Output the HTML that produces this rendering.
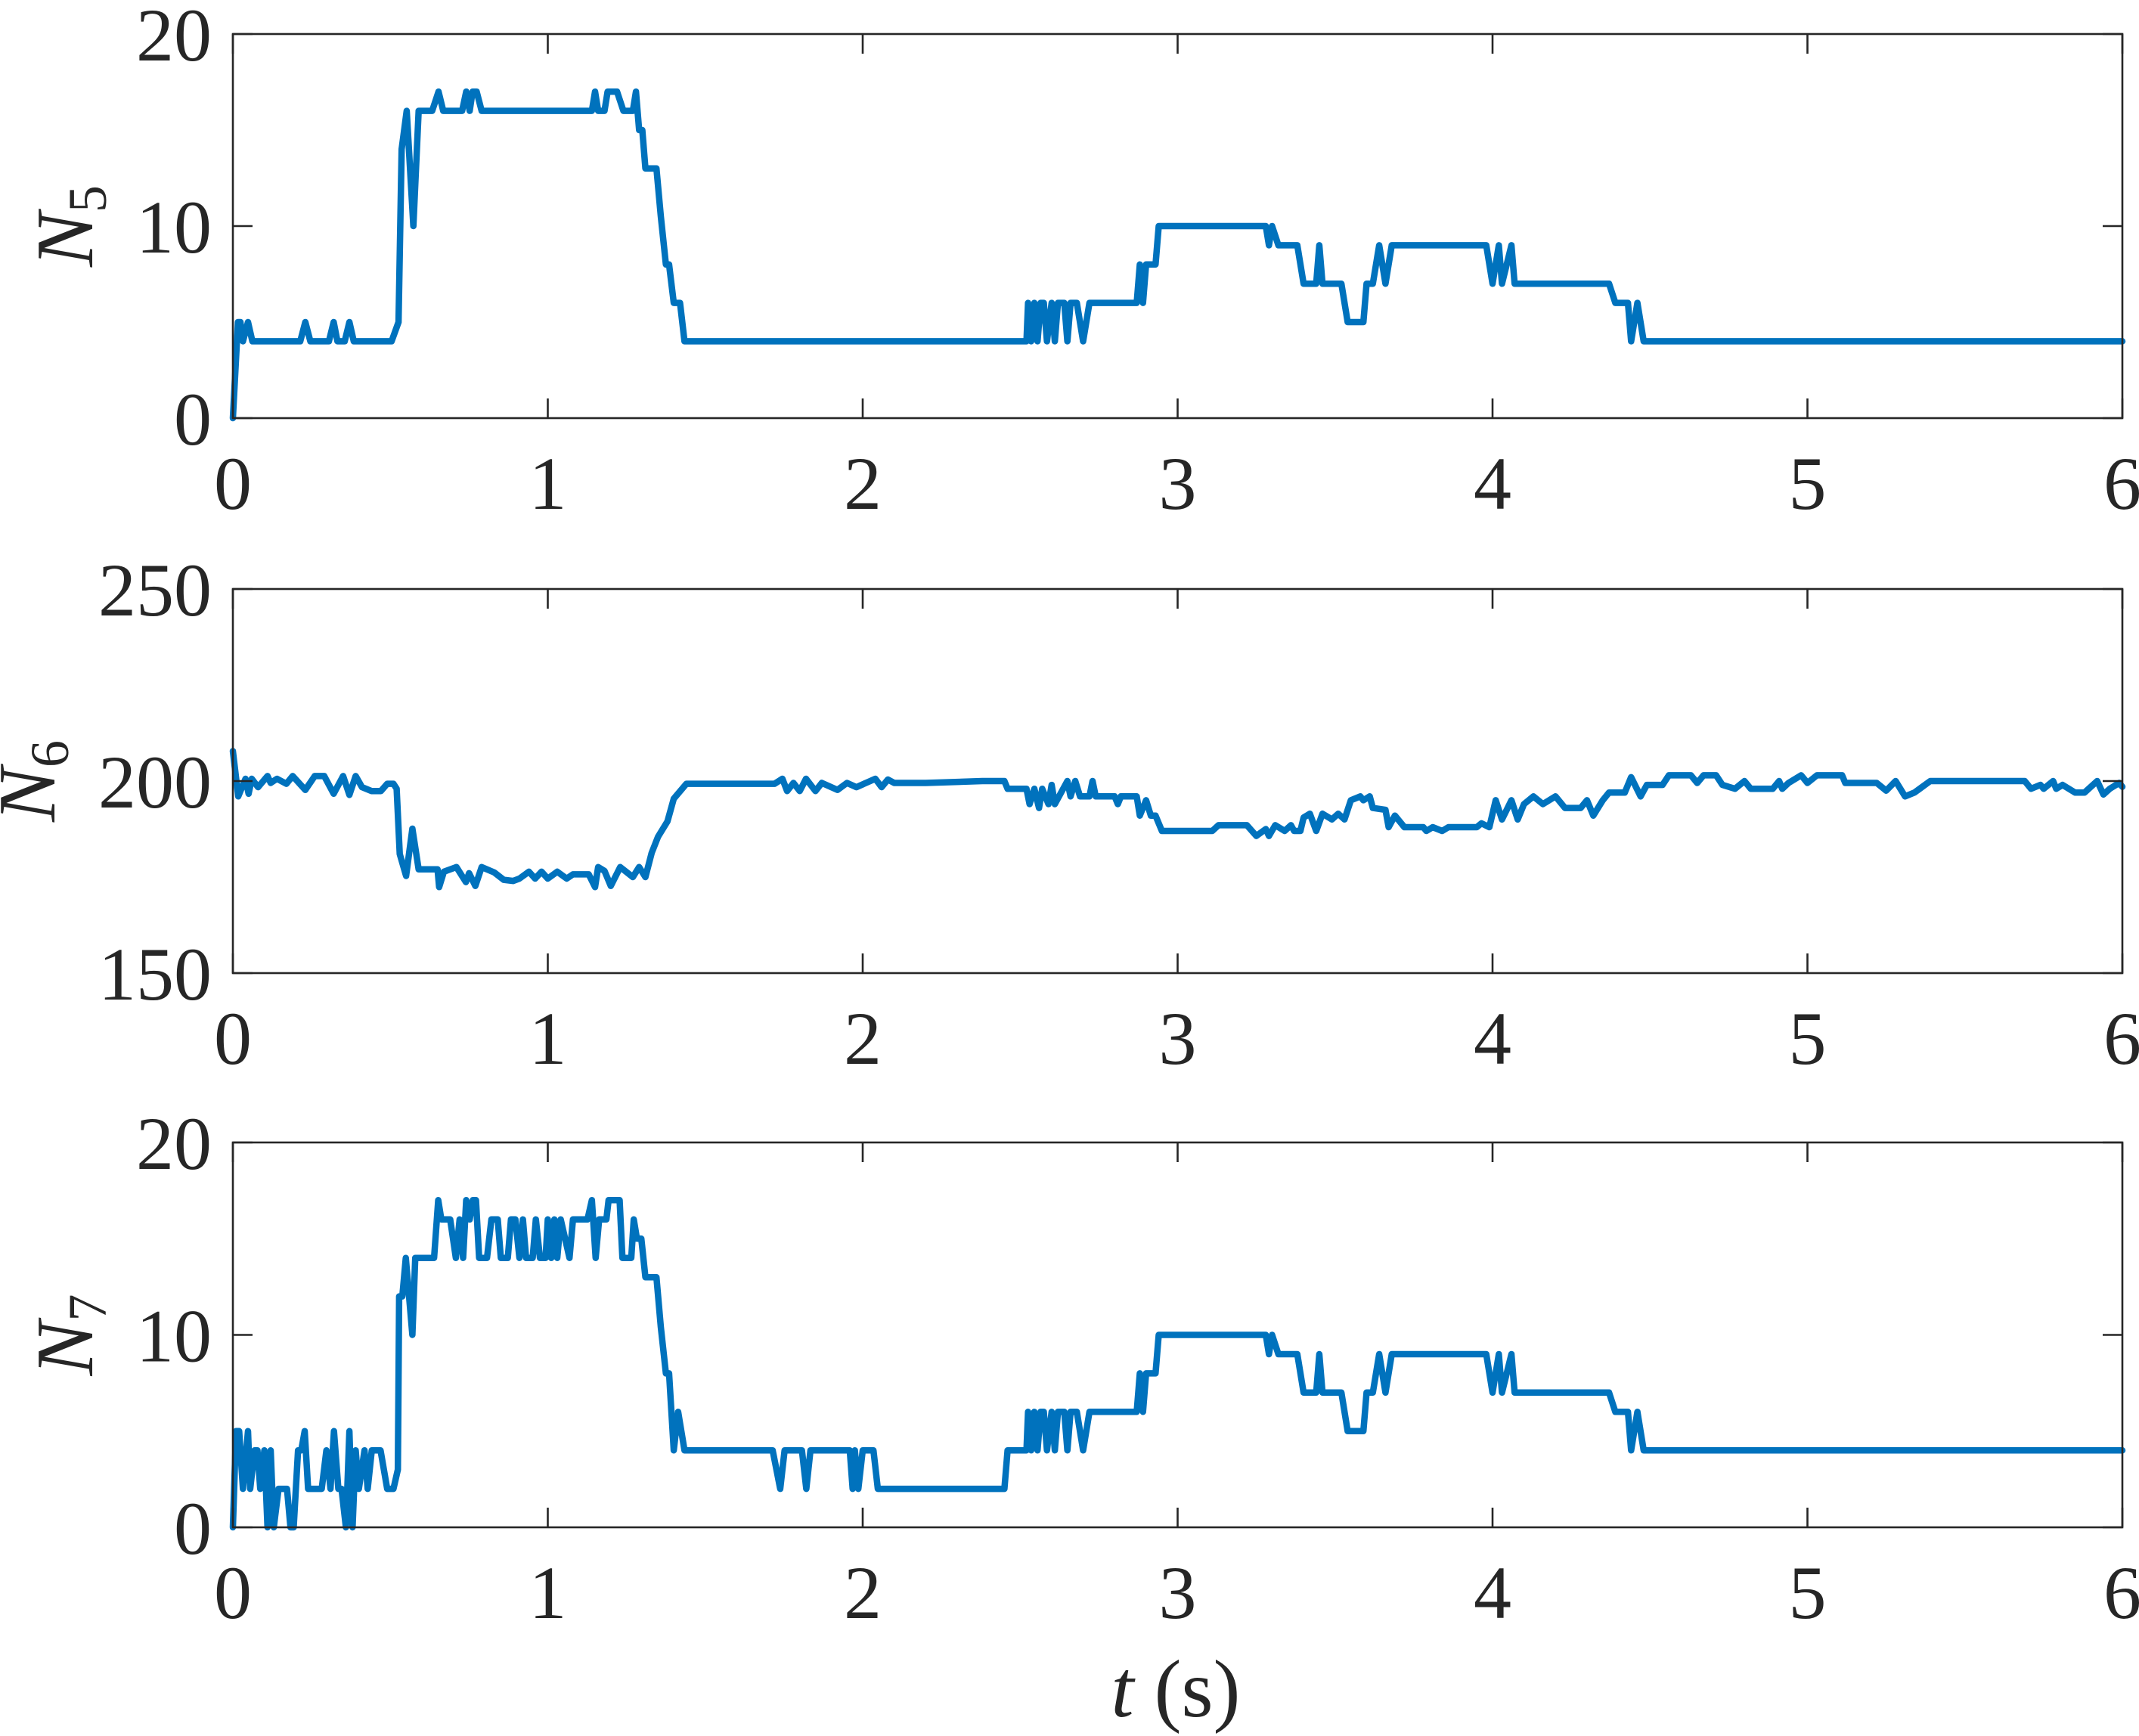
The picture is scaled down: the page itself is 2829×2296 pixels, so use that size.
<!DOCTYPE html>
<html><head><meta charset="utf-8"><style>
html,body{margin:0;padding:0;background:#fff;}
svg{display:block;}
text{font-family:"Liberation Serif",serif;fill:#262626;}
</style></head><body>
<svg id="chart" width="2829" height="2296" viewBox="0 0 2829 2296" xmlns="http://www.w3.org/2000/svg"></svg>
<script>
// ---- data ----
const xTicks = [0,1,2,3,4,5,6];
const yTicks5 = [0,10,20];
const yTicks6 = [150,200,250];
const yTicks7 = [0,10,20];

const n5T = [0,0.016,0.024,0.032,0.048,0.062,0.214,0.23,0.246,0.305,0.32,0.332,0.355,0.37,0.384,0.504,0.526,0.536,0.552,0.573,0.59,0.633,0.653,0.668,0.728,0.741,0.752,0.761,0.774,0.79,1.14,1.15,1.16,1.18,1.19,1.22,1.24,1.27,1.28,1.29,1.3,1.31,1.345,1.359,1.375,1.385,1.4,1.42,1.434,
2.52,2.525,2.535,2.545,2.555,2.565,2.575,2.585,2.6,2.61,2.62,2.64,2.65,2.66,2.68,2.7,2.72,2.87,2.88,2.89,2.9,2.93,2.94,3.28,3.29,3.3,3.32,3.38,3.4,3.44,3.45,3.46,3.52,3.54,3.59,3.6,3.62,3.64,3.66,3.68,3.98,4.0,4.02,4.03,4.06,4.07,4.37,4.39,4.43,4.44,4.46,4.48,6];
const n5V = [0,5,5,4,5,4,4,5,4,4,5,4,4,5,4,4,5,14,16,10,16,16,17,16,16,17,16,17,17,16,16,17,16,16,17,17,16,16,17,15,15,13,13,10.5,8,8,6,6,4,
4,6,4,6,4,6,6,4,6,4,6,6,4,6,6,4,6,6,8,6,8,8,10,10,9,10,9,9,7,7,9,7,7,5,5,7,7,9,7,9,9,7,9,7,9,7,7,6,6,4,6,4,4];

const n6T = [0,0.017,0.04,0.05,0.06,0.08,0.11,0.12,0.14,0.17,0.19,0.23,0.26,0.29,0.32,0.35,0.37,0.39,0.41,0.44,0.47,0.49,0.51,0.52,0.53,0.55,0.57,0.59,0.65,0.655,0.67,0.71,0.74,0.75,0.77,0.79,0.83,0.86,0.89,0.91,0.94,0.96,0.98,1.0,1.03,1.06,1.08,1.13,1.15,1.16,1.18,1.2,1.23,1.27,1.29,1.31,1.33,1.35,1.38,1.4,1.44,1.72,1.745,1.76,1.78,1.8,1.82,1.85,1.87,1.92,1.95,1.98,2.04,2.06,2.08,2.1,2.2,2.38,
2.45,2.46,2.52,2.53,2.545,2.56,2.57,2.59,2.6,2.61,2.65,2.66,2.675,2.69,2.72,2.73,2.74,2.8,2.81,2.82,2.87,2.88,2.9,2.915,2.93,2.95,3.11,3.13,3.22,3.25,3.28,3.29,3.31,3.34,3.36,3.37,3.39,3.4,3.42,3.44,3.46,3.49,3.51,3.53,3.55,3.58,3.59,3.61,3.62,3.66,3.67,3.69,3.72,3.78,3.79,3.81,3.84,3.86,3.95,3.965,3.99,4.01,4.03,4.06,4.08,4.1,4.13,4.16,4.2,4.23,4.28,4.3,4.32,4.35,4.37,4.42,4.44,4.47,4.49,4.54,4.56,4.63,4.65,4.67,4.71,4.73,4.77,4.8,4.82,4.89,4.91,4.92,4.94,4.98,5.0,5.03,5.11,5.12,5.22,5.25,5.28,5.31,5.34,5.39,5.69,5.71,5.74,5.75,5.78,5.79,5.81,5.85,5.88,5.92,5.94,5.96,5.99,6.0];
const n6V = [207.8,196,200.6,196.7,200.6,198.4,201.3,199.5,200.6,199.3,201.3,197.7,201.3,201.3,196.7,201.3,196.4,201.3,198.4,197.4,197.4,199.3,199.3,198,181,175.3,187.6,177,177,172.4,176.4,177.6,173.7,176,172.7,177.6,176.2,174.3,174,174.6,176.4,174.6,176.4,174.6,176.4,174.6,175.7,175.7,172.4,177.6,176.6,172.7,177.6,175,177.6,175,181.3,185.5,189.5,195.4,199.3,199.3,200.6,197.4,199.5,197.4,200.6,197.4,199.5,197.7,199.5,198.4,200.6,198.4,200.4,199.5,199.5,200,
200,198,198,194,198,193,198,194,199,194,200,196,200,196,196,200,196,196,194,196,196,191,195,191,191,187,187,188.5,188.5,185.7,187.5,185.7,188.5,187,188.5,187,187,190.5,191.5,187,191.5,190,191.5,190,195,196,195,196,193,192.5,188,191,188,188,187,188,187,188,188,189,188,195,190,195,190,194,196,194,196,193,193,195,191,195,197,197,201,196,199,199,201.5,201.5,199.5,201.5,201.5,199,198,200,198,198,200,198,199.5,201.5,199.5,201.5,201.5,199.5,199.5,197.5,200,196,197,200,200,198,199,198,200,198,199,197,197,200,196.5,198,199.5,198.5];

const n7T = [0,0.01,0.02,0.032,0.048,0.055,0.069,0.078,0.087,0.1,0.11,0.12,0.13,0.145,0.172,0.183,0.193,0.207,0.217,0.228,0.239,0.282,0.297,0.31,0.321,0.335,0.345,0.359,0.37,0.38,0.39,0.4,0.418,0.428,0.441,0.469,0.49,0.51,0.524,0.528,0.538,0.549,0.57,0.579,0.639,0.652,0.662,0.69,0.708,0.72,0.731,0.741,0.752,0.762,0.772,0.782,0.807,0.821,0.841,0.851,0.873,0.883,0.897,0.91,0.921,0.931,0.952,0.962,0.975,0.993,1.0,1.011,1.021,1.03,1.041,1.069,1.08,1.126,1.14,1.152,1.163,1.186,1.193,1.228,1.237,1.265,1.273,1.283,1.297,1.31,1.345,1.359,1.375,1.385,1.4,1.414,1.434,1.714,1.738,1.752,1.807,1.821,1.834,1.959,1.968,1.975,1.986,2.0,2.034,2.048,2.45,2.46,
2.52,2.525,2.535,2.545,2.555,2.565,2.575,2.585,2.6,2.61,2.62,2.64,2.65,2.66,2.68,2.7,2.72,2.87,2.88,2.89,2.9,2.93,2.94,3.28,3.29,3.3,3.32,3.38,3.4,3.44,3.45,3.46,3.52,3.54,3.59,3.6,3.62,3.64,3.66,3.68,3.98,4.0,4.02,4.03,4.06,4.07,4.37,4.39,4.43,4.44,4.46,4.48,6];
const n7V = [0,5,5,2,5,2,4,4,2,4,0,4,0,2,2,0,0,4,4,5,2,2,4,2,5,2,2,0,5,0,4,2,4,2,4,4,2,2,3,12,12,14,10,14,14,17,16,16,14,16,14,17,16,17,17,14,14,16,16,14,14,16,16,14,16,14,14,16,14,14,16,14,16,14,16,14,16,16,17,14,16,16,17,17,14,14,16,15,15,13,13,10.4,8,8,4,6,4,4,2,4,4,2,4,4,2,4,2,4,4,2,2,4,
4,6,4,6,4,6,6,4,6,4,6,6,4,6,6,4,6,6,8,6,8,8,10,10,9,10,9,9,7,7,9,7,7,5,5,7,7,9,7,9,9,7,9,7,9,7,7,6,6,4,6,4,4];

// ---- layout ----
const svg = document.getElementById('chart');
const NS = 'http://www.w3.org/2000/svg';
const X0 = 308, X1 = 2807;
const panels = [
  {name:'n5', top:45, bot:553, ymin:0, ymax:20, ticks:yTicks5, T:n5T, V:n5V, sub:'5'},
  {name:'n6', top:779, bot:1287, ymin:150, ymax:250, ticks:yTicks6, T:n6T, V:n6V, sub:'6'},
  {name:'n7', top:1511, bot:2020, ymin:0, ymax:20, ticks:yTicks7, T:n7T, V:n7V, sub:'7'}
];
function xs(t){ return X0 + (t-0)/(6-0)*(X1-X0); }
function mk(tag, attrs){ const e=document.createElementNS(NS,tag); for(const k in attrs) e.setAttribute(k, attrs[k]); svg.appendChild(e); return e; }

panels.forEach(p => {
  const ys = v => p.bot - (v-p.ymin)/(p.ymax-p.ymin)*(p.bot-p.top);
  const g = document.createElementNS(NS,'g');
  
  
  svg.appendChild(g);
  const add = (tag, attrs, txt) => { const e=document.createElementNS(NS,tag); for(const k in attrs) e.setAttribute(k, attrs[k]); if(txt!==undefined) e.textContent=txt; g.appendChild(e); return e; };
  const pts = p.T.map((t,i) => xs(t).toFixed(1)+','+ys(p.V[i]).toFixed(1)).join(' ');
  const line = add('polyline', {points:pts, fill:'none', stroke:'#0072BD', 'stroke-width':8.5, 'stroke-linejoin':'round', 'stroke-linecap':'round'});
  
  
  const box = add('rect', {x:X0, y:p.top, width:X1-X0, height:p.bot-p.top, fill:'none', stroke:'#262626', 'stroke-width':2.6});
  
  
  xTicks.forEach(t => {
    const x = xs(t);
    add('line', {x1:x, y1:p.bot, x2:x, y2:p.bot-26, stroke:'#262626', 'stroke-width':2.6});
    add('line', {x1:x, y1:p.top, x2:x, y2:p.top+26, stroke:'#262626', 'stroke-width':2.6});
    const lb = add('text', {x:x, y:p.bot+120, 'font-size':100, 'text-anchor':'middle'}, String(t));
    
    
  });
  p.ticks.forEach(v => {
    const y = ys(v);
    add('line', {x1:X0, y1:y, x2:X0+26, y2:y, stroke:'#262626', 'stroke-width':2.6});
    add('line', {x1:X1, y1:y, x2:X1-26, y2:y, stroke:'#262626', 'stroke-width':2.6});
    const lb = add('text', {x:280, y:y+35, 'font-size':100, 'text-anchor':'end'}, String(v));
    
    
  });
  const cy = (p.top+p.bot)/2;
  const yl = add('text', {x:0, y:0, 'font-size':108, 'text-anchor':'middle', transform:'translate('+(p.name==='n6'?72:122)+','+cy+') rotate(-90)'});
  yl.innerHTML = '<tspan font-style="italic">N</tspan><tspan font-size="72" dy="18">' + p.sub + '</tspan>';
  
  
});
const xt = mk('text', {x:1555, y:2270, 'font-size':108, 'text-anchor':'middle'});
xt.innerHTML = '<tspan font-style="italic">t</tspan> (s)';


</script>
</body></html>
